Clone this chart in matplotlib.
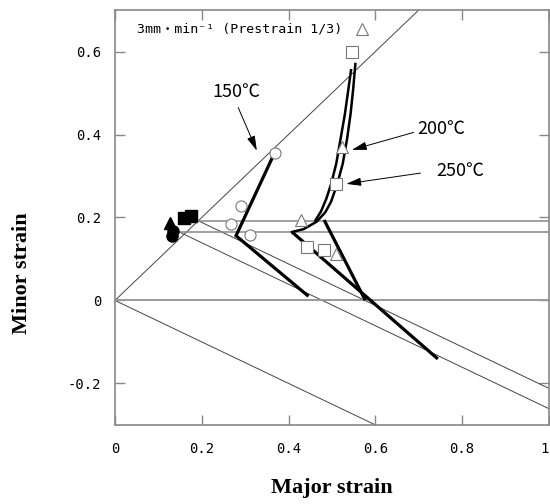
import matplotlib
matplotlib.use("Agg")
import matplotlib.pyplot as plt

# ---- data ----
ref_diag_x = [0.0, 0.70]
ref_diag_y = [0.0, 0.70]
ref_ut_x = [0.0, 0.60]
ref_ut_y = [0.0, -0.30]
pre_hi_x = [0.192, 1.0]
pre_hi_y = [0.192, 0.192]
pre_hi_slope_y = [0.192, -0.212]
pre_lo_x = [0.150, 1.0]
pre_lo_y = [0.164, 0.164]
pre_lo_slope_y = [0.164, -0.261]

path150_x = [0.371, 0.279, 0.446]
path150_y = [0.363, 0.156, 0.010]
seg_a_x = [0.408, 0.744]
seg_a_y = [0.165, -0.141]
seg_b_x = [0.482, 0.577]
seg_b_y = [0.194, 0.000]
curve1_x = [0.408, 0.435, 0.465, 0.485, 0.498, 0.512, 0.525, 0.535, 0.543, 0.549, 0.554]
curve1_y = [0.165, 0.172, 0.190, 0.213, 0.238, 0.280, 0.330, 0.390, 0.450, 0.510, 0.570]
curve2_x = [0.462, 0.475, 0.487, 0.498, 0.510, 0.520, 0.530, 0.538, 0.544]
curve2_y = [0.193, 0.215, 0.245, 0.280, 0.330, 0.390, 0.450, 0.510, 0.555]

circ_x = [0.368, 0.291, 0.267, 0.311]
circ_y = [0.355, 0.227, 0.185, 0.158]
sq_x = [0.547, 0.510, 0.442, 0.482]
sq_y = [0.600, 0.281, 0.128, 0.122]
tri_x = [0.569, 0.523, 0.428, 0.510]
tri_y = [0.654, 0.369, 0.195, 0.112]
fsq_x = [0.158, 0.175]
fsq_y = [0.198, 0.204]
ftri_x = [0.127]
ftri_y = [0.187]
fcirc_x = [0.134, 0.131]
fcirc_y = [0.168, 0.156]

xticks = [0, 0.2, 0.4, 0.6, 0.8, 1.0]
xticklabels = ["0", "0.2", "0.4", "0.6", "0.8", "1"]
yticks = [-0.2, 0, 0.2, 0.4, 0.6]
yticklabels = ["-0.2", "0", "0.2", "0.4", "0.6"]

mono = ["DejaVu Sans Mono", "Noto Sans CJK JP", "DejaVu Sans"]
cjk = ["Noto Sans CJK JP", "DejaVu Sans"]

fig = plt.figure(figsize=(5.5, 5.04), dpi=100)
ax = fig.add_axes([0.209, 0.157, 0.789, 0.823])
ax.set_xlim(0, 1)
ax.set_ylim(-0.3, 0.7)

thin = dict(color="#444444", lw=0.7)
ax.plot(ref_diag_x, ref_diag_y, **thin)
ax.plot(ref_ut_x, ref_ut_y, **thin)
ax.plot(pre_hi_x, pre_hi_slope_y, **thin)
ax.plot(pre_lo_x, pre_lo_slope_y, **thin)
ax.plot(pre_hi_x, pre_hi_y, color="#888888", lw=1.1)
ax.plot(pre_lo_x, pre_lo_y, color="#888888", lw=1.1)
ax.axhline(0, color="#999999", lw=1.4)

thick = dict(color="black", lw=2.3, solid_capstyle="butt", solid_joinstyle="miter")
ax.plot(path150_x, path150_y, **thick)
ax.plot(seg_a_x, seg_a_y, **thick)
ax.plot(seg_b_x, seg_b_y, **thick)
ax.plot(curve1_x, curve1_y, color="black", lw=1.8)
ax.plot(curve2_x, curve2_y, color="black", lw=1.8)

mk = dict(linestyle="none", mfc="white", mec="#777777", mew=0.8, ms=8)
ax.plot(circ_x, circ_y, marker="o", **mk)
ax.plot(sq_x, sq_y, marker="s", **mk)
ax.plot(tri_x, tri_y, marker="^", **mk)
ax.plot(fsq_x, fsq_y, marker="s", linestyle="none", color="black", ms=8)
ax.plot(ftri_x, ftri_y, marker="^", linestyle="none", color="black", ms=8)
ax.plot(fcirc_x, fcirc_y, marker="o", linestyle="none", color="black", ms=8)

ax.text(0.05, 0.654, "3mm・min⁻¹ (Prestrain 1/3)", family=mono, fontsize=9.5,
        va="center", ha="left")

arr = dict(arrowstyle="-|>,head_length=0.9,head_width=0.25", color="black", lw=0.7,
           shrinkA=0, shrinkB=0)
ax.annotate("", xy=(0.327, 0.361), xytext=(0.284, 0.465), arrowprops=arr)
ax.annotate("", xy=(0.546, 0.363), xytext=(0.688, 0.405), arrowprops=arr)
ax.annotate("", xy=(0.533, 0.281), xytext=(0.704, 0.307), arrowprops=arr)
ax.text(0.280, 0.503, "150℃", family=cjk, fontsize=13, ha="center", va="center")
ax.text(0.752, 0.413, "200℃", family=cjk, fontsize=13, ha="center", va="center")
ax.text(0.795, 0.313, "250℃", family=cjk, fontsize=13, ha="center", va="center")

for s in ax.spines.values():
    s.set_color("#888888")
    s.set_linewidth(1.2)
ax.tick_params(direction="in", length=7, width=1.0, color="#888888",
               top=True, right=True, labelsize=10)
ax.tick_params(axis="y", pad=10)
ax.tick_params(axis="x", pad=12)
ax.set_xticks(xticks)
ax.set_xticklabels(xticklabels, family=mono)
ax.xaxis.get_ticklabels()[-1].set_ha("right")
ax.set_yticks(yticks)
ax.set_yticklabels(yticklabels, family=mono)

ax.set_xlabel("Major strain", family="Liberation Serif", fontweight="bold",
              fontsize=16, va="center", ha="center")
ax.xaxis.set_label_coords(0.5, -0.152)
ax.set_ylabel("Minor strain", family="Liberation Serif", fontweight="bold",
              fontsize=16, va="center", ha="center")
ax.yaxis.set_label_coords(-0.215, 0.366)

fig.savefig("out.png", dpi=100)
